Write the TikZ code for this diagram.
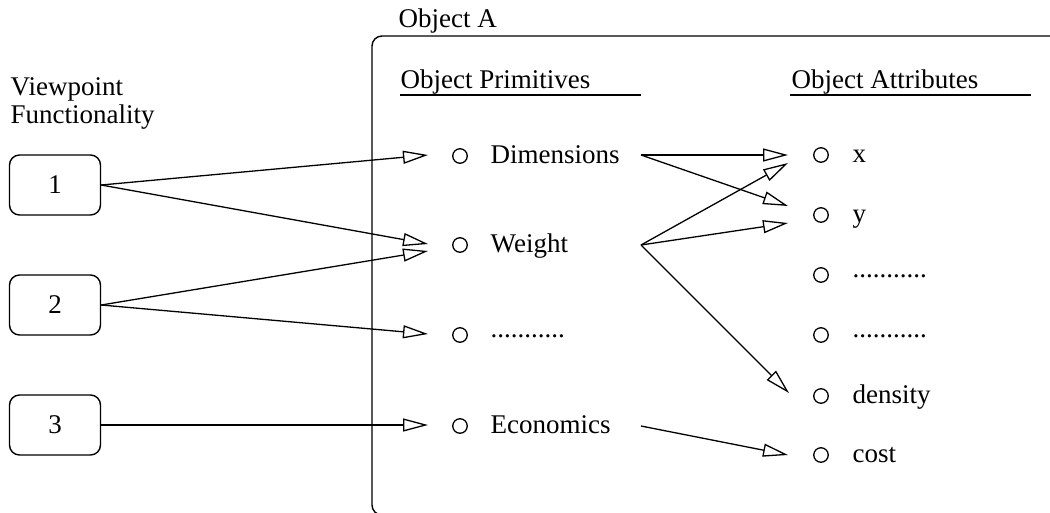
\documentclass[tikz,border=0pt]{standalone}
\usepackage{fontspec}
\setmainfont{Liberation Serif}
\usetikzlibrary{arrows.meta}
\begin{document}
\begin{tikzpicture}[x=1pt,y=-1pt, line width=1.4pt,
  font=\fontsize{27}{28}\selectfont,
  vbox/.style={draw, rounded corners=10pt, minimum width=91pt, minimum height=60pt, inner sep=0pt},
  bullet/.style={draw, circle, minimum size=14.5pt, inner sep=0pt, line width=1.3pt},
  lbl/.style={anchor=base west, inner sep=0pt},
  conn/.style={-{Triangle[open,length=25pt,width=13pt]}, line width=1.3pt}]
\useasboundingbox (0,0) rectangle (1050,512);
\begin{scope}
\clip (0,0) rectangle (1050,512);
\draw[rounded corners=10pt] (372,36) rectangle (1070,515);
\end{scope}
% headings
\node[lbl] (objA) at (398,27) {Object A};
\node[lbl] (vp) at (10,95) {Viewpoint};
\node[lbl] (fn) at (10,123) {Functionality};
\node[lbl] (op) at (400,88) {Object Primitives};
\node[lbl] (oa) at (791,88) {Object Attributes};
\draw (400,95) -- (641,95);
\draw (790,95) -- (1031,95);
% viewpoint boxes
\node[vbox] (b1) at (55,185) {1};
\node[vbox] (b2) at (55,305) {2};
\node[vbox] (b3) at (55,425) {3};
% primitives
\node[bullet] (cDim) at (460,156) {};
\node[lbl] (tDim) at (490,163) {Dimensions};
\node[bullet] (cWt) at (460,245) {};
\node[lbl] (tWt) at (490,252) {Weight};
\node[bullet] (cPd) at (460,335) {};
\node[lbl] (tPd) at (490,337) {...........};
\node[bullet] (cEc) at (460,426) {};
\node[lbl] (tEc) at (490,433) {Economics};
% attributes
\node[bullet] (cX) at (821,155) {};
\node[lbl] (tX) at (852,162) {x};
\node[bullet] (cY) at (821,215) {};
\node[lbl] (tY) at (852,222) {y};
\node[bullet] (cD1) at (821,275) {};
\node[lbl] (tD1) at (852,277) {...........};
\node[bullet] (cD2) at (821,335) {};
\node[lbl] (tD2) at (852,337) {...........};
\node[bullet] (cDen) at (821,396) {};
\node[lbl] (tDen) at (852,403) {density};
\node[bullet] (cCost) at (821,455) {};
\node[lbl] (tCost) at (852,462) {cost};
% connector end points
\coordinate (inDim) at (428,155);
\coordinate (inWtA) at (428,244);
\coordinate (inWtB) at (428,251);
\coordinate (inPd) at (428,334);
\coordinate (inEc) at (428,425);
\coordinate (outDim) at (641,155);
\coordinate (outWt) at (641,245);
\coordinate (outEc) at (641,426);
\coordinate (inX) at (788,155);
\coordinate (inXb) at (788,163);
\coordinate (inY) at (788,206);
\coordinate (inYb) at (788,223);
\coordinate (inDen) at (789,393);
\coordinate (inCost) at (788,455);
% connectors
\draw[conn] (b1.east) -- (inDim);
\draw[conn] (b1.east) -- (inWtA);
\draw[conn] (b2.east) -- (inWtB);
\draw[conn] (b2.east) -- (inPd);
\draw[conn] (b3.east) -- (inEc);
\draw[conn] (outDim) -- (inX);
\draw[conn] (outDim) -- (inY);
\draw[conn] (outWt) -- (inXb);
\draw[conn] (outWt) -- (inYb);
\draw[conn] (outWt) -- (inDen);
\draw[conn] (outEc) -- (inCost);
\end{tikzpicture}
\end{document}
